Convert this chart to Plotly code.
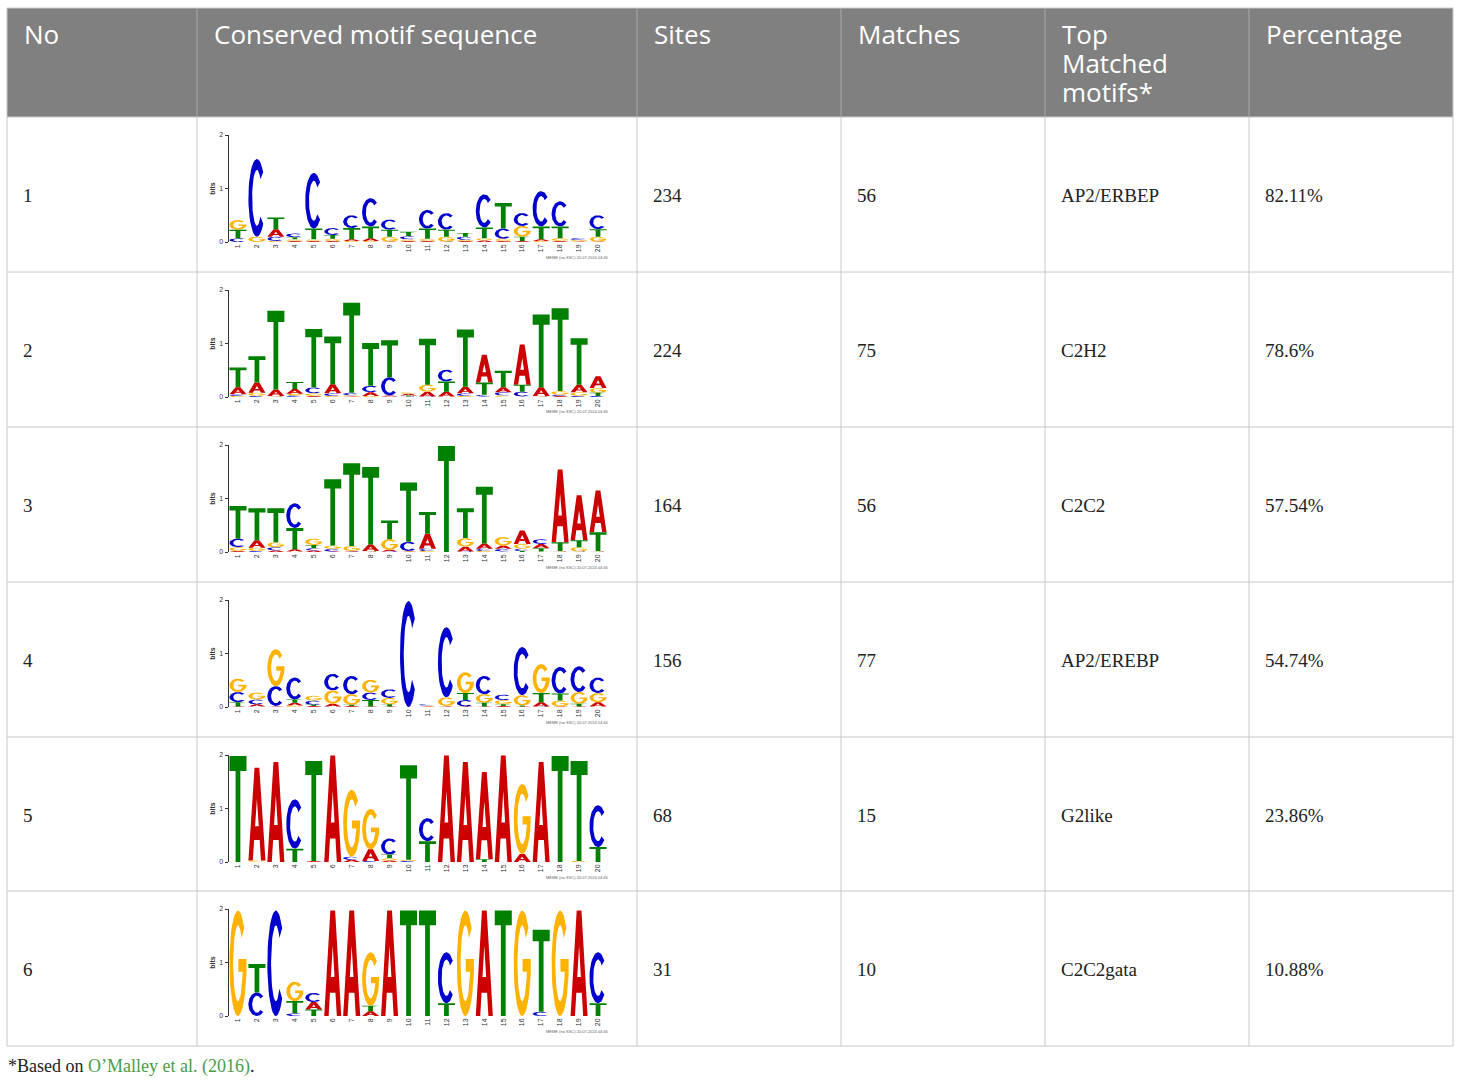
import numpy as np
import plotly.graph_objects as go

# ---------------- data ----------------
HEADERS = ["No", "Conserved motif sequence", "Sites", "Matches", ["Top", "Matched", "motifs*"], "Percentage"]
ROW_NO = ["1", "2", "3", "4", "5", "6"]
SITES = [234, 224, 164, 156, 68, 31]
MATCHES = [56, 75, 56, 77, 15, 10]
TOP_MOTIFS = ["AP2/ERBEP", "C2H2", "C2C2", "AP2/EREBP", "G2like", "C2C2gata"]
PERCENTAGE = ["82.11%", "78.6%", "57.54%", "54.74%", "23.86%", "10.88%"]
FOOTNOTE_PREFIX = "*Based on "
FOOTNOTE_CITATION = "O\u2019Malley et al. (2016)"
POSITIONS = list(range(1, 21))
Y_TICKS = [0, 1, 2]

# information content (bits) per nucleotide at positions 1..20
LOGO1 = {
    "A": [0, 0, 0.14, 0.02, 0.02, 0.02, 0.03, 0.05, 0.01, 0.02, 0.02, 0.01, 0.02, 0.03, 0.02, 0.02, 0.03, 0.02, 0.01, 0.01],
    "C": [0.07, 1.45, 0.08, 0.07, 1.04, 0.13, 0.24, 0.53, 0.19, 0.06, 0.35, 0.31, 0.06, 0.62, 0.19, 0.24, 0.66, 0.47, 0.03, 0.26],
    "G": [0.18, 0.10, 0.02, 0.03, 0.03, 0.04, 0.02, 0.02, 0.09, 0.03, 0.04, 0.09, 0.02, 0.04, 0.04, 0.20, 0.02, 0.05, 0.02, 0.09],
    "T": [0.16, 0, 0.22, 0.04, 0.20, 0.07, 0.21, 0.22, 0.13, 0.08, 0.19, 0.13, 0.07, 0.20, 0.48, 0.08, 0.24, 0.22, 0.01, 0.14],
}
LOGO2 = {
    "A": [0.13, 0.19, 0.12, 0.09, 0.02, 0.17, 0.01, 0.07, 0.02, 0.03, 0.09, 0.09, 0.12, 0.52, 0.09, 0.75, 0.16, 0.02, 0.14, 0.22],
    "C": [0.03, 0.02, 0.01, 0.03, 0.11, 0.05, 0.05, 0.12, 0.34, 0.01, 0.01, 0.22, 0.05, 0.03, 0.06, 0.09, 0.01, 0.02, 0.02, 0.02],
    "G": [0.02, 0.06, 0.01, 0.03, 0.05, 0.02, 0.02, 0.02, 0.01, 0.03, 0.13, 0.01, 0.02, 0.01, 0.03, 0.01, 0.01, 0.07, 0.07, 0.09],
    "T": [0.37, 0.49, 1.47, 0.13, 1.09, 0.89, 1.68, 0.80, 0.69, 0.02, 0.86, 0.19, 1.07, 0.23, 0.31, 0.13, 1.36, 1.55, 0.87, 0.06],
}
LOGO3 = {
    "A": [0.02, 0.14, 0.03, 0.04, 0.03, 0.01, 0.01, 0.12, 0.03, 0.01, 0.28, 0, 0.09, 0.10, 0.06, 0.25, 0.08, 1.36, 0.84, 0.78],
    "C": [0.16, 0.02, 0.06, 0.46, 0.04, 0.05, 0.01, 0.01, 0.01, 0.17, 0.04, 0, 0.01, 0.04, 0.05, 0.04, 0.09, 0.01, 0.01, 0.01],
    "G": [0.07, 0.06, 0.09, 0.01, 0.12, 0.06, 0.09, 0.01, 0.20, 0.01, 0.02, 0, 0.16, 0.02, 0.16, 0.09, 0.01, 0.01, 0.08, 0.01],
    "T": [0.61, 0.60, 0.64, 0.40, 0.06, 1.24, 1.55, 1.45, 0.35, 1.11, 0.41, 1.98, 0.56, 1.06, 0.01, 0.02, 0.06, 0.16, 0.13, 0.35],
}
LOGO4 = {
    "A": [0.01, 0.04, 0.01, 0.05, 0.02, 0.05, 0.02, 0.01, 0.01, 0, 0.01, 0.01, 0.01, 0.01, 0.02, 0.01, 0.08, 0.01, 0.01, 0.08],
    "C": [0.19, 0.09, 0.37, 0.41, 0.08, 0.31, 0.34, 0.14, 0.16, 1.98, 0.02, 1.31, 0.12, 0.34, 0.10, 0.90, 0.01, 0.50, 0.48, 0.29],
    "G": [0.25, 0.13, 0.69, 0.03, 0.09, 0.25, 0.20, 0.24, 0.12, 0, 0.01, 0.16, 0.39, 0.16, 0.08, 0.19, 0.54, 0.11, 0.22, 0.17],
    "T": [0.08, 0.01, 0.01, 0.06, 0.02, 0.01, 0.02, 0.12, 0.04, 0, 0.01, 0.01, 0.13, 0.07, 0.03, 0.02, 0.17, 0.13, 0.05, 0.01],
}
LOGO5 = {
    "A": [0, 1.73, 1.87, 0, 0.02, 1.99, 0.04, 0.22, 0.03, 0, 0, 1.99, 1.87, 1.63, 1.99, 0.15, 1.87, 0, 0, 0],
    "C": [0, 0, 0, 0.92, 0, 0, 0.06, 0.02, 0.30, 0.02, 0.43, 0, 0, 0, 0, 0, 0, 0, 0, 0.78],
    "G": [0, 0.03, 0, 0, 0, 0, 1.25, 0.75, 0.04, 0.02, 0, 0, 0, 0, 0, 1.31, 0, 0, 0.02, 0],
    "T": [1.98, 0, 0, 0.25, 1.87, 0, 0, 0, 0.07, 1.77, 0.39, 0, 0, 0.05, 0, 0, 0, 1.98, 1.87, 0.28],
}
LOGO6 = {
    "A": [0, 0, 0, 0, 0.14, 1.97, 1.97, 0.09, 1.97, 0, 0, 0, 0, 1.97, 0, 0, 0, 0, 1.97, 0],
    "C": [0, 0.44, 1.97, 0.05, 0.17, 0, 0, 0, 0, 0, 0, 0.95, 0, 0, 0, 0, 0.08, 0, 0, 0.95],
    "G": [1.97, 0, 0, 0.36, 0, 0, 0, 1.00, 0, 0, 0, 0, 1.97, 0, 0, 1.97, 0, 1.97, 0, 0],
    "T": [0, 0.53, 0, 0.23, 0.12, 0, 0, 0.10, 0, 1.97, 1.97, 0.24, 0, 0, 1.97, 0, 1.53, 0, 0, 0.24],
}
LOGOS = [LOGO1, LOGO2, LOGO3, LOGO4, LOGO5, LOGO6]

# ---------------- layout constants (pixels) ----------------
W, H = 1460, 1084
COL_EDGES = [7, 197, 637, 841, 1045, 1249, 1453]
HEADER_TOP, HEADER_BOTTOM = 8, 117
ROW_EDGES = [117, 272, 427, 582, 737, 891, 1046]
PAD = 16
LETTER_COLORS = {"A": "#cc0000", "C": "#0000cc", "G": "#ffb300", "T": "#008000"}
GRID = "#c8c8c8"
HEADER_BG = "#808080"
HEADER_SEP = "#a9a9a9"
HEADER_FONT = "Open Sans"
BODY_FONT = "Liberation Serif"


def X(px):
    return px / W


def Y(py):
    return 1 - py / H


# ---------------- glyph outlines in a unit box ----------------
def _arc(cx, cy, rx, ry, a0, a1, n=40):
    t = np.radians(np.linspace(a0, a1, n))
    return list(zip(cx + rx * np.cos(t), cy + ry * np.sin(t)))


GLYPHS = {
    "T": [(0, 1), (1, 1), (1, 0.86), (0.64, 0.86), (0.64, 0), (0.36, 0), (0.36, 0.86), (0, 0.86)],
    "A": [(0, 0), (0.36, 1), (0.64, 1), (1, 0), (0.74, 0), (0.66, 0.22), (0.34, 0.22),
          (0.393, 0.37), (0.607, 0.37), (0.5, 0.667), (0.393, 0.37), (0.34, 0.22), (0.26, 0)],
    "C": _arc(0.5, 0.5, 0.5, 0.5, 42, 318) + _arc(0.5, 0.5, 0.28, 0.36, 318, 42),
    "G": _arc(0.5, 0.5, 0.5, 0.5, 42, 348) + [(1.0, 0.396), (1.0, 0.54), (0.52, 0.54), (0.52, 0.42), (0.773, 0.42)]
         + _arc(0.5, 0.5, 0.28, 0.36, 347, 42),
}

fig = go.Figure()
LETTER_W = 0.9

for k, logo in enumerate(LOGOS):
    axn = "" if k == 0 else str(k + 1)
    xs = {L: [] for L in "ACGT"}
    ys = {L: [] for L in "ACGT"}
    for i, pos in enumerate(POSITIONS):
        stack = sorted(((logo[L][i], L) for L in "ACGT"), key=lambda t: t[0])
        base = 0.0
        for h, L in stack:
            if h <= 0.004:
                continue
            for gx, gy in GLYPHS[L]:
                xs[L].append(pos - LETTER_W / 2 + LETTER_W * gx)
                ys[L].append(base + h * gy)
            xs[L].append(None)
            ys[L].append(None)
            base += h
    for L in "ACGT":
        fig.add_trace(go.Scatter(
            x=xs[L], y=ys[L], mode="lines", fill="toself",
            fillcolor=LETTER_COLORS[L], line=dict(width=0, color=LETTER_COLORS[L]),
            hoverinfo="skip", showlegend=False,
            xaxis="x" + axn, yaxis="y" + axn,
        ))
    rt = ROW_EDGES[k]
    fig.layout["xaxis" + axn] = dict(
        domain=[X(228.5), X(607.5)], range=[0.5, 20.5], anchor="y" + axn,
        tickvals=POSITIONS, ticktext=[str(p) for p in POSITIONS], tickangle=-90,
        tickfont=dict(family="Liberation Sans", size=7, color="#333"),
        showgrid=False, zeroline=False, showline=False, ticks="", fixedrange=True, automargin=False,
    )
    fig.layout["yaxis" + axn] = dict(
        domain=[Y(rt + 125), Y(rt + 18)], range=[0, 2], anchor="x" + axn,
        tickvals=Y_TICKS, ticks="outside", ticklen=3, tickwidth=1, tickcolor="#333",
        tickfont=dict(family="Liberation Sans", size=7, color="#333"),
        showline=True, linecolor="#333", linewidth=1, showgrid=False, zeroline=False,
        title=dict(text="<b>bits</b>", font=dict(family="Liberation Sans", size=7, color="#333"), standoff=2),
        fixedrange=True, automargin=False,
    )

# ---------------- table shapes ----------------
shapes = []
shapes.append(dict(type="rect", xref="paper", yref="paper", x0=X(COL_EDGES[0]), x1=X(COL_EDGES[-1]),
                   y0=Y(HEADER_BOTTOM), y1=Y(HEADER_TOP), fillcolor=HEADER_BG, line=dict(width=0), layer="below"))
shapes.append(dict(type="line", xref="paper", yref="paper", x0=X(COL_EDGES[0]), x1=X(COL_EDGES[-1]),
                   y0=Y(HEADER_TOP), y1=Y(HEADER_TOP), line=dict(color=GRID, width=1)))
for ry in ROW_EDGES:
    shapes.append(dict(type="line", xref="paper", yref="paper", x0=X(COL_EDGES[0]), x1=X(COL_EDGES[-1]),
                       y0=Y(ry), y1=Y(ry), line=dict(color=GRID, width=1)))
for j, cx in enumerate(COL_EDGES):
    shapes.append(dict(type="line", xref="paper", yref="paper", x0=X(cx), x1=X(cx),
                       y0=Y(ROW_EDGES[-1]), y1=Y(HEADER_BOTTOM), line=dict(color=GRID, width=1)))
    col = GRID if j in (0, len(COL_EDGES) - 1) else HEADER_SEP
    shapes.append(dict(type="line", xref="paper", yref="paper", x0=X(cx), x1=X(cx),
                       y0=Y(HEADER_BOTTOM), y1=Y(HEADER_TOP), line=dict(color=col, width=1)))

# ---------------- table text ----------------
ann = []
HEADER_LINE_Y = [34, 63, 92]
for j, htxt in enumerate(HEADERS):
    lines = htxt if isinstance(htxt, list) else [htxt]
    for li, t in enumerate(lines):
        ann.append(dict(xref="paper", yref="paper", x=X(COL_EDGES[j] + PAD - 1), y=Y(HEADER_LINE_Y[li]),
                        xanchor="left", yanchor="middle", showarrow=False, text=t,
                        font=dict(family=HEADER_FONT, size=26, color="white")))

body_cols = {0: ROW_NO, 2: [str(s) for s in SITES], 3: [str(m) for m in MATCHES], 4: TOP_MOTIFS, 5: PERCENTAGE}
for r in range(6):
    cy = (ROW_EDGES[r] + ROW_EDGES[r + 1]) / 2
    for j, vals in body_cols.items():
        ann.append(dict(xref="paper", yref="paper", x=X(COL_EDGES[j] + PAD - 2), y=Y(cy + 1),
                        xanchor="left", yanchor="middle", showarrow=False, text=vals[r],
                        font=dict(family=BODY_FONT, size=19, color="#222")))
    ann.append(dict(xref="paper", yref="paper", x=X(611), y=Y(ROW_EDGES[r] + 140),
                    xanchor="right", yanchor="middle", showarrow=False,
                    text="MEME (no SSC) 20.07.2024 04:46",
                    font=dict(family="Liberation Sans", size=4, color="#666")))

ann.append(dict(xref="paper", yref="paper", x=X(6), y=Y(1066), xanchor="left", yanchor="middle",
                showarrow=False,
                text=FOOTNOTE_PREFIX + '<span style="color:#4a9d48">' + FOOTNOTE_CITATION + "</span>.",
                font=dict(family=BODY_FONT, size=18, color="#222")))

fig.update_layout(
    width=W, height=H, autosize=False,
    margin=dict(l=0, r=0, t=0, b=0, pad=0, autoexpand=False),
    paper_bgcolor="white", plot_bgcolor="rgba(0,0,0,0)",
    shapes=shapes, annotations=ann, showlegend=False,
)

fig.write_html(
    "out.html",
    config={"displayModeBar": False},
    post_script=(
        "document.documentElement.style.margin='0';"
        "document.documentElement.style.overflow='hidden';"
        "document.documentElement.style.height='1084px';"
        "document.body.style.margin='0';document.body.style.padding='0';"
        "document.body.style.overflow='hidden';document.body.style.height='1084px';"
        "var gd=document.getElementById('{plot_id}');"
        "gd.style.position='absolute';gd.style.left='0px';gd.style.top='0px';"
    ),
)
